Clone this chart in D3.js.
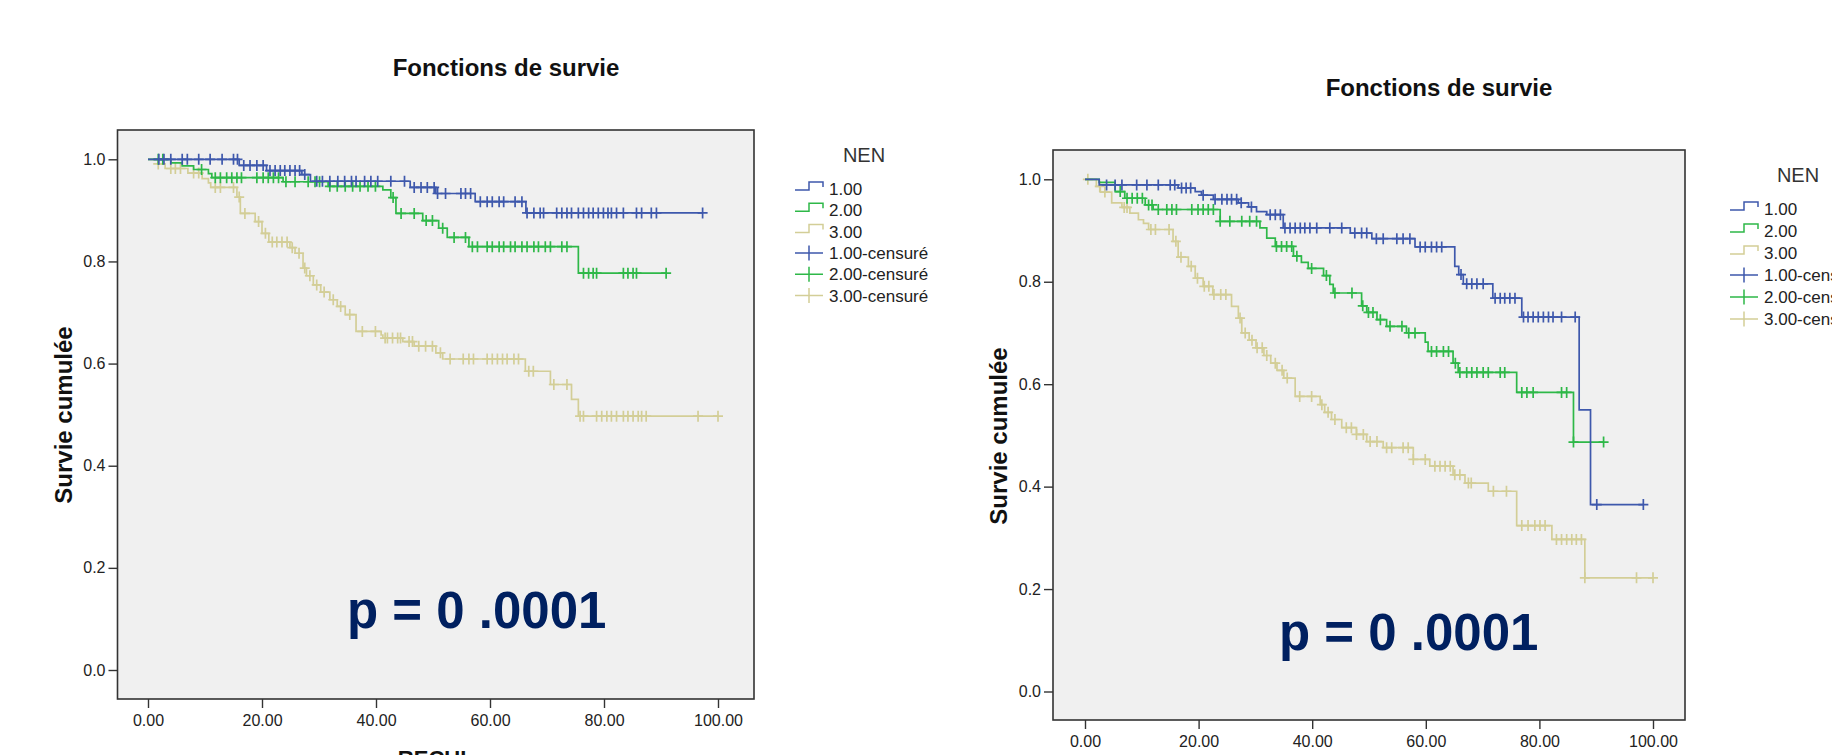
<!DOCTYPE html>
<head>
<meta charset="utf-8">
<title>Fonctions de survie</title>
<script src="https://cdn.jsdelivr.net/npm/d3@7"></script>
<style>
  html, body { margin: 0; padding: 0; background: #fff; overflow: hidden; }
  body { font-family: "Liberation Sans", Arial, Helvetica, sans-serif; }
  .tick text { fill: #222; }
</style>
</head>
<body>
<svg id="svg" width="1832" height="755"></svg>
<script>
// ---- data (time, cumulative survival) ----
const groups = ["1.00", "2.00", "3.00"];
const legendLabels = ["1.00", "2.00", "3.00", "1.00-censuré", "2.00-censuré", "3.00-censuré"];
const xTicks = [0, 20, 40, 60, 80, 100];
const yTicks = [0, 0.2, 0.4, 0.6, 0.8, 1.0];

// left chart
const leftSteps1 = [[0,1],[16,0.988],[20.8,0.978],[27,0.970],[28.5,0.957],[46,0.945],[50.5,0.933],[57.4,0.917],[66.3,0.895]];
const leftCens1 = [1.9,2.8,4,6,6.9,8.9,10.9,13,15,15.7,16.8,17.9,19.1,20.2,21.4,22.3,23.2,24,24.9,25.8,26.6,27.5,29.6,30.6,31.9,33.3,34.5,35.7,36.5,38,39.1,40.3,42.6,45,46.7,47.9,49,50.2,50.8,52.2,54.9,55.7,56.6,58.3,59.5,60.4,61.6,62.4,64.4,65.6,66.5,67.7,68.8,69.4,71.7,72.6,73.5,74.3,75.5,76.4,77.3,78.1,79,79.9,80.7,81.3,82.2,83.4,85.7,86.6,88.3,89.2,97.3];
const leftSteps2 = [[0,1],[4,0.993],[6,0.987],[8,0.98],[10.6,0.972],[11.2,0.964],[23.7,0.956],[31.6,0.947],[41.2,0.94],[42.6,0.925],[43.5,0.894],[48.2,0.880],[51,0.865],[52.5,0.847],[56.3,0.829],[75.5,0.777]];
const leftCens2 = [1.8,2.6,9.4,11.8,12.7,13.8,14.7,15.6,16.4,19.1,20.2,21.1,22,22.9,24.2,25.8,28.1,29.3,30.1,31.9,33.2,34.6,35.9,37.2,38.6,39.9,43,44.4,46.7,48.8,49.9,51.7,53.7,55.7,56.9,57.8,59.5,60.4,61.6,62.4,63.6,64.4,65.6,66.5,67.7,68.5,69.7,70.6,72.6,73.5,76.4,77.3,78.1,78.7,83.4,84.2,85.1,85.7,90.9];
const leftSteps3 = [[0,1],[1.8,0.991],[3,0.982],[7,0.973],[9.5,0.962],[10.6,0.954],[11,0.945],[15.6,0.926],[16.2,0.894],[18.8,0.878],[20,0.855],[21.2,0.838],[24.9,0.827],[25.8,0.816],[27.2,0.787],[27.8,0.772],[29,0.754],[30.3,0.740],[31.9,0.725],[33.2,0.712],[34.6,0.696],[36.5,0.663],[40.9,0.656],[41.2,0.650],[44.7,0.643],[46.7,0.634],[50.5,0.621],[51.7,0.609],[66.2,0.585],[70.6,0.559],[74.3,0.530],[75.5,0.497]];
const leftCens3 = [1.8,4,4.8,5.7,8,8.9,11.8,12.7,15,16,17,19.4,20.6,21.8,22.6,23.5,24.4,25.3,26.5,27.5,28.4,29.6,30.9,32.5,33.8,35.4,37.6,39.9,41.6,42,42.9,43.8,44.3,45.8,46.4,47.5,48.7,49.9,51.3,53,55.3,56.3,57.1,59.5,60.4,61.3,62.2,63,64.2,65,66.8,67.6,71.2,73.5,75.8,76.4,78.7,79.6,80.5,81.3,82.2,83.4,84.2,85.1,86,86.6,87.4,96.5,100];

// right chart
const rightSteps1 = [[0,1],[2.5,0.989],[16.4,0.983],[19.4,0.976],[20.5,0.969],[22.6,0.961],[27,0.954],[28.8,0.946],[30.2,0.937],[32,0.931],[34.9,0.905],[46.7,0.895],[50.5,0.884],[58.1,0.868],[65.1,0.830],[65.8,0.814],[66.6,0.796],[71.8,0.768],[76.9,0.731],[87,0.550],[89,0.365]];
const rightCens1 = [3.8,5.3,6.5,9.1,10.9,12.9,15,15.8,17,17.8,18.6,20.8,22.9,24.1,25,25.8,26.7,27.5,29.3,32.6,33.5,34.4,35.2,36.1,37,37.9,38.7,39.6,40.8,43.1,45.2,47.5,48.7,49.6,51.3,52.5,54.9,56,57.2,59,59.9,61,61.9,62.8,66.2,67.2,68.1,69,70.1,72.2,73.1,73.9,74.8,75.7,77.2,78,78.9,79.8,80.7,81.6,82.4,83.9,86.3,90.1,98.3];
const rightSteps2 = [[0,1],[2.5,0.994],[5.3,0.976],[7,0.963],[10.6,0.950],[12,0.941],[23.8,0.918],[30.8,0.905],[32,0.885],[33.5,0.869],[36.7,0.850],[38.1,0.838],[39.3,0.826],[42,0.812],[43.1,0.795],[43.7,0.778],[48.7,0.753],[49.6,0.740],[51.4,0.726],[53.1,0.713],[56.6,0.700],[59.9,0.682],[60.4,0.664],[64.8,0.641],[65.7,0.623],[76,0.584],[86,0.487]];
const rightCens2 = [6.2,7.4,8.3,9.2,10.1,11.2,11.8,12.9,14.4,15.3,16.1,18.8,19.9,20.8,21.7,22.6,23.8,25.5,27.6,29,30.2,33.7,34.6,35.5,36.4,37.3,39.9,42.5,44,47,48.9,49.9,50.7,52,53.7,55.8,57,58.1,61,61.9,63.1,64,65.2,66,67.2,68.1,69,70.1,71,73.1,73.9,76.9,77.8,78.9,83.9,84.8,86,91.3];
const rightSteps3 = [[0,1],[2,0.986],[2.7,0.975],[4.7,0.954],[6.5,0.945],[7.9,0.934],[9.4,0.921],[10.3,0.914],[11.2,0.902],[15.5,0.879],[16.4,0.848],[18.2,0.830],[19.4,0.807],[20.8,0.791],[22.5,0.775],[25.8,0.752],[27,0.729],[27.6,0.700],[28.9,0.686],[30.1,0.671],[31.5,0.656],[32.7,0.641],[33.8,0.627],[35,0.612],[37,0.576],[41.4,0.560],[42.2,0.545],[43.4,0.531],[45.2,0.515],[47.8,0.502],[49.6,0.488],[52.5,0.476],[57.8,0.453],[60.7,0.440],[64.8,0.423],[66.9,0.407],[71,0.391],[76,0.324],[82.2,0.297],[88,0.222]];
const rightCens3 = [0.5,2.6,3.5,6.9,7.4,11.6,12.4,14.8,16,16.9,18.7,19.8,21,21.8,22.7,23.9,24.8,27.3,28.2,29.4,30.3,31.2,32,33.5,34.7,35.6,37.8,39.9,41.7,42.8,44,46,46.9,47.8,49,50.2,51.4,53.1,54,56,56.9,57.8,59.9,61.6,62.5,63.4,64.3,65.1,66,67.5,68,71.9,74.2,76.9,78,79.2,80.1,81,83,83.9,84.8,85.7,86.5,87.4,88,97.1,100];

const colors = ["#3e58ac", "#2eb848", "#d3ce97"];

const charts = [
  { box: [117.5, 130, 754, 699], x: [148, 718], y: [670, 159.3], titleX: 506, titleY: 76,
    ylabX: 64, ylabY: 415, xlab: "RECUL", pX: 347, pY: 628,
    legX: 795, legNenX: 864, legNenY: 161.5, legY0: 195, legStep: 21.3,
    steps: [leftSteps1, leftSteps2, leftSteps3], cens: [leftCens1, leftCens2, leftCens3] },
  { box: [1053, 150, 1685, 720], x: [1085, 1653], y: [691.5, 179.3], titleX: 1439, titleY: 96,
    ylabX: 999, ylabY: 436, xlab: "RECUL", pX: 1279, pY: 650,
    legX: 1730, legNenX: 1798, legNenY: 181.5, legY0: 215, legStep: 22,
    steps: [rightSteps1, rightSteps2, rightSteps3], cens: [rightCens1, rightCens2, rightCens3] }
];

const svg = d3.select("#svg");

function survAt(steps, t) {
  let s = steps[0][1];
  for (const p of steps) { if (p[0] <= t) s = p[1]; }
  return s;
}

charts.forEach(function (c) {
  const g = svg.append("g");
  const x = d3.scaleLinear().domain([0, 100]).range(c.x);
  const y = d3.scaleLinear().domain([0, 1]).range(c.y);
  const [bl, bt, br, bb] = c.box;

  g.append("rect")
    .attr("x", bl).attr("y", bt)
    .attr("width", br - bl).attr("height", bb - bt)
    .attr("fill", "#f0f0f0")
    .attr("stroke", "#333").attr("stroke-width", 1.6);

  // axes
  const xAxis = d3.axisBottom(x).tickValues(xTicks).tickFormat(d3.format(".2f"))
    .tickSizeOuter(0).tickSizeInner(9).tickPadding(7);
  const yAxis = d3.axisLeft(y).tickValues(yTicks).tickFormat(d3.format(".1f"))
    .tickSizeOuter(0).tickSizeInner(9).tickPadding(3);

  const gx = g.append("g").attr("class", "tick-x").attr("transform", "translate(0," + bb + ")").call(xAxis);
  const gy = g.append("g").attr("transform", "translate(" + bl + ",0)").call(yAxis);
  [gx, gy].forEach(function (a) {
    a.select(".domain").remove();
    a.selectAll(".tick line").attr("stroke", "#333").attr("stroke-width", 1.4);
    a.selectAll(".tick text").attr("font-size", 16).attr("fill", "#222")
      .attr("font-family", "Liberation Sans, Arial, sans-serif");
  });

  // titles
  g.append("text").attr("x", c.titleX).attr("y", c.titleY)
    .attr("text-anchor", "middle").attr("font-size", 24).attr("font-weight", "bold")
    .attr("fill", "#111").text("Fonctions de survie");

  g.append("text")
    .attr("transform", "translate(" + (c.ylabX + 8) + "," + c.ylabY + ") rotate(-90)")
    .attr("text-anchor", "middle").attr("font-size", 24).attr("font-weight", "bold")
    .attr("fill", "#111").text("Survie cumulée");

  g.append("text").attr("x", (bl + br) / 2).attr("y", bb + 67)
    .attr("text-anchor", "middle").attr("font-size", 22).attr("font-weight", "bold")
    .attr("fill", "#111").text(c.xlab);

  // curves, drawn 3 -> 1 so group 1 sits on top
  const line = d3.line().curve(d3.curveStepAfter)
    .x(function (d) { return x(d[0]); })
    .y(function (d) { return y(d[1]); });

  [2, 1, 0].forEach(function (i) {
    const steps = c.steps[i];
    const cens = c.cens[i];
    const end = d3.max(cens.concat(steps.map(function (d) { return d[0]; })));
    const pts = steps.concat([[end, steps[steps.length - 1][1]]]);
    const cg = g.append("g");
    cg.append("path").datum(pts)
      .attr("d", line)
      .attr("fill", "none")
      .attr("stroke", colors[i]).attr("stroke-width", 1.7);
    cg.selectAll("path.cens").data(cens).enter().append("path")
      .attr("class", "cens")
      .attr("d", function (t) {
        const px = x(t), py = y(survAt(steps, t));
        return "M" + (px - 5) + "," + py + "H" + (px + 5) + "M" + px + "," + (py - 5.5) + "V" + (py + 5.5);
      })
      .attr("fill", "none")
      .attr("stroke", colors[i]).attr("stroke-width", 1.7);
  });

  // p value
  g.append("text").attr("x", c.pX).attr("y", c.pY)
    .attr("font-size", 51).attr("font-weight", "bold")
    .attr("fill", "#002060").text("p = 0 .0001");

  // legend
  const lg = g.append("g");
  lg.append("text").attr("x", c.legNenX).attr("y", c.legNenY)
    .attr("text-anchor", "middle").attr("font-size", 20).attr("fill", "#333").text("NEN");
  legendLabels.forEach(function (lab, k) {
    const col = colors[k % 3];
    const by = c.legY0 + k * c.legStep;
    const lx = c.legX;
    if (k < 3) {
      lg.append("path")
        .attr("d", "M" + lx + "," + (by - 5) + "H" + (lx + 14) + "V" + (by - 13) + "H" + (lx + 28) + "V" + (by - 8))
        .attr("fill", "none").attr("stroke", col).attr("stroke-width", 1.5);
    } else {
      lg.append("path")
        .attr("d", "M" + lx + "," + (by - 6) + "H" + (lx + 28) + "M" + (lx + 14) + "," + (by - 13.5) + "V" + (by + 1.5))
        .attr("fill", "none").attr("stroke", col).attr("stroke-width", 1.5);
    }
    lg.append("text").attr("x", lx + 34).attr("y", by)
      .attr("font-size", 17).attr("fill", "#222").text(lab);
  });
});
</script>
</body>
